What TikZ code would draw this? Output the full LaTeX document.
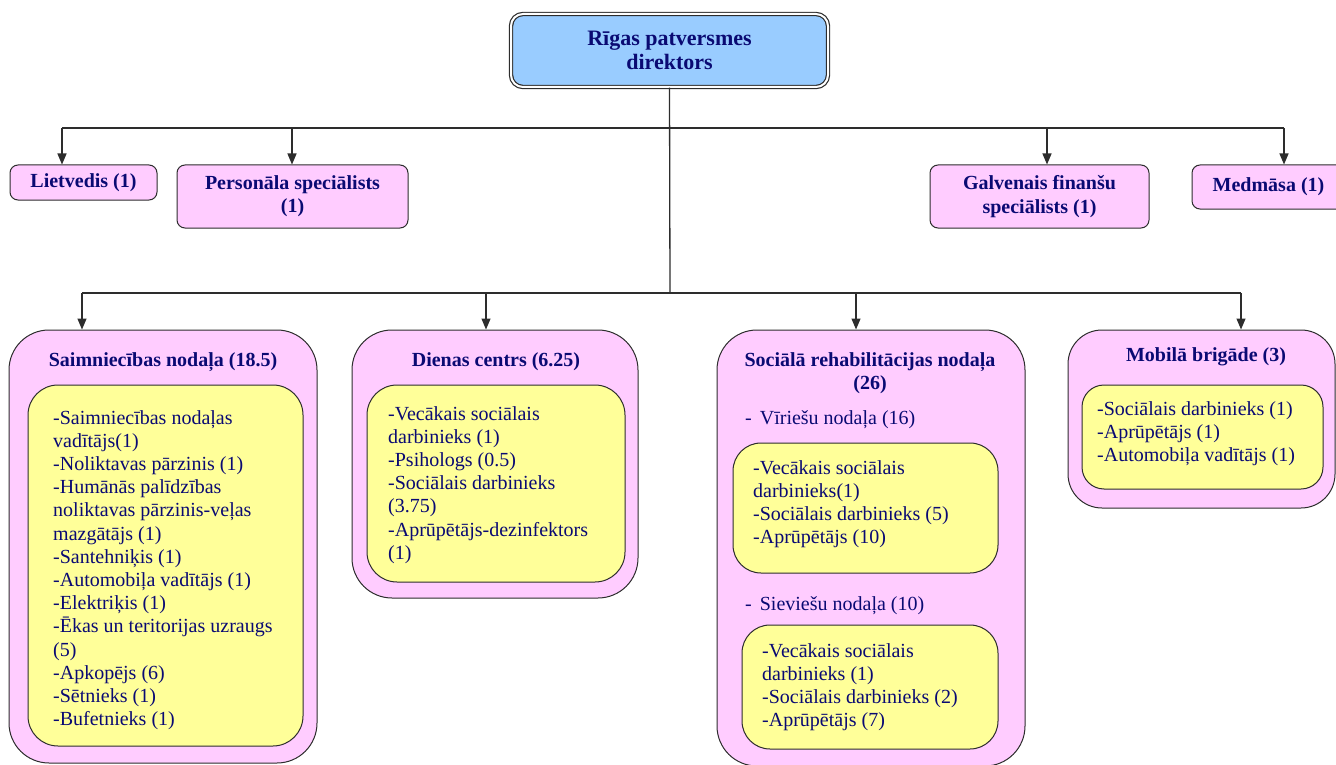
\documentclass[tikz,border=0pt]{standalone}
\usepackage{fontspec}
\setmainfont{Liberation Serif}
\usetikzlibrary{arrows.meta}
\definecolor{navy}{RGB}{10,10,115}
\definecolor{pinkf}{RGB}{255,204,255}
\definecolor{yelf}{RGB}{255,255,153}
\definecolor{bluef}{RGB}{153,204,255}
\definecolor{edgec}{RGB}{45,45,45}
\tikzset{
  conn/.style={draw=edgec, line width=1.3pt},
  arr/.style={conn, -{Triangle[length=11pt,width=9pt]}},
  pinkbox/.style={draw=edgec, line width=1pt, fill=pinkf, inner sep=0pt},
  yelbox/.style={draw=edgec, line width=1pt, fill=yelf, inner sep=0pt},
  ttl/.style={text=navy, font=\rmfamily\bfseries\fontsize{20pt}{23.2pt}\selectfont, align=center, inner sep=0pt},
  body/.style={text=navy, font=\rmfamily\mdseries\fontsize{20pt}{23.2pt}\selectfont, align=left, inner sep=0pt, anchor=north west},
}
\begin{document}
\begin{tikzpicture}[x=1pt, y=-1pt]
\useasboundingbox (0,0) rectangle (1336,765);
\clip (0,0) rectangle (1336,765);

% director
\node[draw=edgec, line width=1.2pt, double=white, double distance=2pt, fill=bluef,
  rounded corners=12pt, minimum width=317pt, minimum height=73pt, inner sep=0pt,
  text=navy, font=\rmfamily\bfseries\fontsize{22pt}{24pt}\selectfont, align=center]
  (dir) at (669.5,50.5) {Rīgas patversmes\\direktors};

% upper row
\node[pinkbox, ttl, rounded corners=8pt, minimum width=147pt, minimum height=35pt] (liet) at (83.5,182.5) {Lietvedis (1)};
\node[pinkbox, ttl, rounded corners=8pt, minimum width=231pt, minimum height=63pt] (pers) at (292.5,196.5) {Personāla speciālists\\(1)};
\node[pinkbox, ttl, rounded corners=8pt, minimum width=219pt, minimum height=63pt] (galv) at (1039.5,196.5) {Galvenais finanšu\\speciālists (1)};
\node[pinkbox, ttl, rounded corners=8pt, minimum width=153pt, minimum height=44pt] (med) at (1268.5,187) {Medmāsa (1)};

% lower row outer boxes
\node[pinkbox, rounded corners=40pt, minimum width=308pt, minimum height=433pt] (saim) at (163,546.5) {};
\node[pinkbox, rounded corners=40pt, minimum width=286pt, minimum height=268pt] (dien) at (495,464) {};
\node[pinkbox, rounded corners=40pt, minimum width=308pt, minimum height=436pt] (soc) at (871,548) {};
\node[pinkbox, rounded corners=34pt, minimum width=267pt, minimum height=178pt] (mob) at (1201.5,419) {};

% inner boxes
\node[yelbox, rounded corners=30pt, minimum width=275pt, minimum height=361pt] (saimI) at (165.5,565.5) {};
\node[yelbox, rounded corners=30pt, minimum width=258pt, minimum height=197pt] (dienI) at (496,483.5) {};
\node[yelbox, rounded corners=28pt, minimum width=265pt, minimum height=130pt] (virI) at (865.5,508) {};
\node[yelbox, rounded corners=28pt, minimum width=256pt, minimum height=124pt] (sievI) at (870,687) {};
\node[yelbox, rounded corners=22pt, minimum width=241pt, minimum height=104pt] (mobI) at (1202.5,437) {};

% titles
\node[ttl] (saimT) at (163,362) {Saimniecības nodaļa (18.5)};
\node[ttl] (dienT) at (496,362) {Dienas centrs (6.25)};
\node[ttl] (socT) at (870,373.5) {Sociālā rehabilitācijas nodaļa\\(26)};
\node[ttl] (mobT) at (1206,357) {Mobilā brigāde (3)};

% bodies
\node[body] (saimB) at (53,410) {-Saimniecības nodaļas\\vadītājs(1)\\-Noliktavas pārzinis (1)\\-Humānās palīdzības\\noliktavas pārzinis-veļas\\mazgātājs (1)\\-Santehniķis (1)\\-Automobiļa vadītājs (1)\\-Elektriķis (1)\\-Ēkas un teritorijas uzraugs\\(5)\\-Apkopējs (6)\\-Sētnieks (1)\\-Bufetnieks (1)};
\node[body] (dienB) at (388,406) {-Vecākais sociālais\\darbinieks (1)\\-Psihologs (0.5)\\-Sociālais darbinieks\\(3.75)\\-Aprūpētājs-dezinfektors\\(1)};
\node[body] (virL) at (745,410) {-\hspace{8pt}Vīriešu nodaļa (16)};
\node[body] (virB) at (753,460) {-Vecākais sociālais\\darbinieks(1)\\-Sociālais darbinieks (5)\\-Aprūpētājs (10)};
\node[body] (sievL) at (745,596) {-\hspace{8pt}Sieviešu nodaļa (10)};
\node[body] (sievB) at (762,643) {-Vecākais sociālais\\darbinieks (1)\\-Sociālais darbinieks (2)\\-Aprūpētājs (7)};
\node[body] (mobB) at (1097,401) {-Sociālais darbinieks (1)\\-Aprūpētājs (1)\\-Automobiļa vadītājs (1)};

% connectors
\coordinate (j2) at (670,293);
\coordinate (t1) at (62,128);
\coordinate (t2) at (292,128);
\coordinate (t3) at (1047,128);
\coordinate (t4) at (1284,128);
\coordinate (u1) at (82,293);
\coordinate (u2) at (486,293);
\coordinate (u3) at (856,293);
\coordinate (u4) at (1241,293);
\draw[conn] (dir.south) -- (j2);
\draw[conn] (t1) -- (t4);
\draw[conn] (u1) -- (u4);
\draw[arr] (t1) -- (t1 |- liet.north);
\draw[arr] (t2) -- (t2 |- pers.north);
\draw[arr] (t3) -- (t3 |- galv.north);
\draw[arr] (t4) -- (t4 |- med.north);
\draw[arr] (u1) -- (u1 |- saim.north);
\draw[arr] (u2) -- (u2 |- dien.north);
\draw[arr] (u3) -- (u3 |- soc.north);
\draw[arr] (u4) -- (u4 |- mob.north);
\end{tikzpicture}
\end{document}
